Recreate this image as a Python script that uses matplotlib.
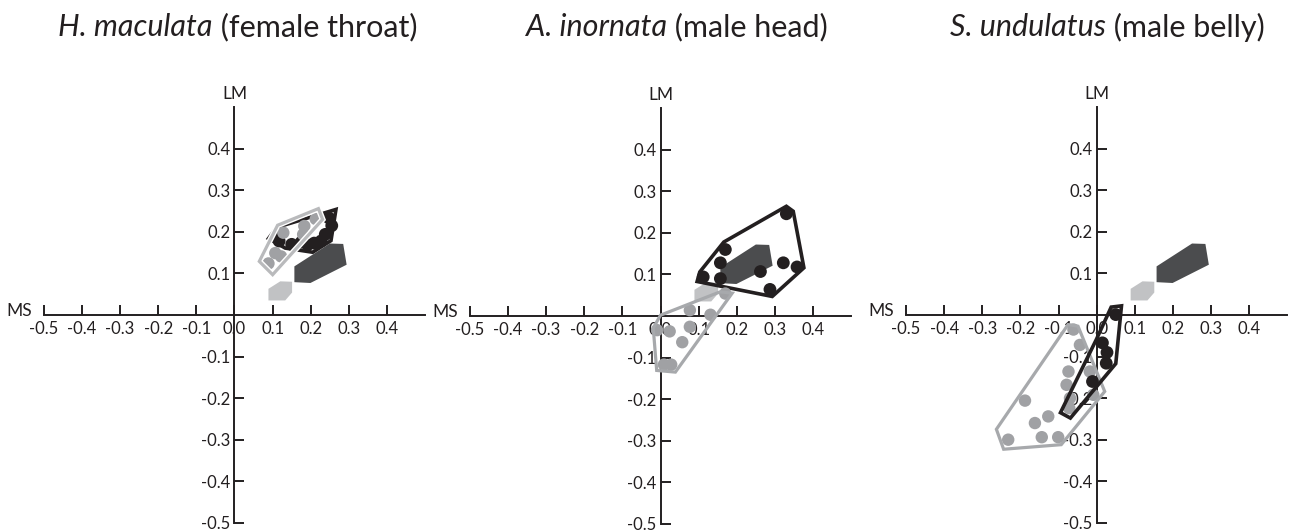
import matplotlib.pyplot as plt
import matplotlib.patheffects as pe
from matplotlib.patches import Polygon

plt.rcParams['font.family'] = ['Lato', 'DejaVu Sans']

BLACK = '#231f20'
DARK = '#4b4c4e'
LIGHT = '#c1c2c4'
GREY_DOT = '#a0a1a4'
GREY_LINE = '#a7a9ac'

# shared filled shapes (same in every panel)
dark_hex_x = [0.157, 0.157, 0.199, 0.294, 0.285, 0.250]
dark_hex_y = [0.117, 0.079, 0.077, 0.121, 0.171, 0.172]
light_hex_x = [0.089, 0.089, 0.133, 0.151, 0.151, 0.120]
light_hex_y = [0.063, 0.035, 0.035, 0.054, 0.080, 0.081]

# H. maculata
hm_black_x = [0.117, 0.209, 0.227, 0.238, 0.247, 0.192, 0.117, 0.150, 0.255, 0.175]
hm_black_y = [0.178, 0.173, 0.178, 0.194, 0.234, 0.169, 0.194, 0.170, 0.215, 0.175]
hm_black_hull_x = [0.089, 0.111, 0.266, 0.253, 0.205, 0.133]
hm_black_hull_y = [0.184, 0.211, 0.254, 0.179, 0.151, 0.161]
hm_grey_x = [0.128, 0.107, 0.122, 0.089, 0.183, 0.180, 0.213]
hm_grey_y = [0.198, 0.149, 0.141, 0.124, 0.214, 0.194, 0.231]
hm_grey_hull_x = [0.065, 0.100, 0.231, 0.220, 0.113]
hm_grey_hull_y = [0.129, 0.097, 0.230, 0.256, 0.216]

# A. inornata
ai_black_x = [0.112, 0.170, 0.157, 0.157, 0.262, 0.322, 0.358, 0.287, 0.330]
ai_black_y = [0.094, 0.160, 0.128, 0.090, 0.107, 0.128, 0.118, 0.064, 0.246]
ai_black_hull_x = [0.096, 0.103, 0.166, 0.330, 0.348, 0.376, 0.293]
ai_black_hull_y = [0.083, 0.106, 0.178, 0.264, 0.252, 0.116, 0.047]
ai_grey_x = [-0.009, 0.024, 0.077, 0.077, 0.057, 0.131, 0.170, 0.009, 0.028]
ai_grey_y = [-0.034, -0.037, 0.014, -0.026, -0.063, 0.003, 0.054, -0.117, -0.117]
ai_grey_hull_x = [-0.019, 0.000, 0.156, 0.188, 0.039, -0.010]
ai_grey_hull_y = [-0.029, 0.002, 0.058, 0.055, -0.135, -0.131]

# S. undulatus
su_black_x = [0.050, 0.015, 0.027, 0.025, -0.011]
su_black_y = [0.001, -0.067, -0.090, -0.116, -0.160]
su_black_hull_x = [-0.095, -0.069, 0.050, 0.065, 0.038, -0.001]
su_black_hull_y = [-0.235, -0.248, -0.117, 0.022, 0.019, -0.059]
su_grey_x = [-0.061, -0.044, -0.074, -0.018, -0.079, -0.009, -0.070,
             -0.188, -0.127, -0.162, -0.232, -0.144, -0.101, -0.072]
su_grey_y = [-0.035, -0.072, -0.136, -0.136, -0.168, -0.192, -0.200,
             -0.206, -0.244, -0.260, -0.300, -0.294, -0.294, -0.224]
su_grey_hull_x = [-0.263, -0.244, -0.093, 0.021, -0.049, -0.075]
su_grey_hull_y = [-0.275, -0.323, -0.312, -0.184, -0.027, -0.023]

ticks = [-0.5, -0.4, -0.3, -0.2, -0.1, 0.0, 0.1, 0.2, 0.3, 0.4]

W, H = 1289, 531
fig = plt.figure(figsize=(W / 100, H / 100), dpi=100)

panels = [
    dict(cx=234.5, cy=315.0, title_it='H. maculata', title_rm=' (female throat)', tx=238,
         black=(hm_black_x, hm_black_y, hm_black_hull_x, hm_black_hull_y),
         grey=(hm_grey_x, hm_grey_y, hm_grey_hull_x, hm_grey_hull_y),
         grey_top=True, grey_line='#b9babc'),
    dict(cx=660.5, cy=316.0, title_it='A. inornata', title_rm=' (male head)', tx=677,
         black=(ai_black_x, ai_black_y, ai_black_hull_x, ai_black_hull_y),
         grey=(ai_grey_x, ai_grey_y, ai_grey_hull_x, ai_grey_hull_y),
         grey_top=True, grey_line=GREY_LINE),
    dict(cx=1096.7, cy=315.0, title_it='S. undulatus', title_rm=' (male belly)', tx=1107,
         black=(su_black_x, su_black_y, su_black_hull_x, su_black_hull_y),
         grey=(su_grey_x, su_grey_y, su_grey_hull_x, su_grey_hull_y),
         grey_top=False, grey_line=GREY_LINE),
]

aw, ah = 381.4, 415.6
renderer = fig.canvas.get_renderer()

for i, p in enumerate(panels):
    left = (p['cx'] - aw / 2) / W
    bottom = (H - (p['cy'] + ah / 2)) / H
    ax = fig.add_axes([left, bottom, aw / W, ah / H])
    ax.set_xlim(-0.5, 0.5)
    ax.set_ylim(-0.5, 0.5)
    ax.patch.set_visible(False)
    for s in ['top', 'right']:
        ax.spines[s].set_visible(False)
    for s in ['left', 'bottom']:
        ax.spines[s].set_position('zero')
        ax.spines[s].set_linewidth(1.4)
        ax.spines[s].set_color(BLACK)
    ax.set_xticks(ticks)
    ax.set_xticklabels(['%.1f' % t for t in ticks])
    yt = [t for t in ticks if t != 0]
    ax.set_yticks(yt)
    ax.set_yticklabels(['%.1f' % t for t in yt])
    ax.tick_params(direction='in', length=7, width=1.4, color=BLACK,
                   labelsize=12, labelcolor=BLACK)
    ax.tick_params(axis='x', pad=4)
    ax.tick_params(axis='y', pad=3)
    ax.text(-0.532, 0.01, 'MS', ha='right', va='center', fontsize=12.5,
            color=BLACK, clip_on=False)
    ax.text(0, 0.532, 'LM', ha='center', va='center', fontsize=12.5,
            color=BLACK, clip_on=False)

    ax.add_patch(Polygon(list(zip(dark_hex_x, dark_hex_y)), closed=True,
                         fc=DARK, ec='none', zorder=2))
    ax.add_patch(Polygon(list(zip(light_hex_x, light_hex_y)), closed=True,
                         fc=LIGHT, ec='none', zorder=2))

    zb, zg = (3, 5) if p['grey_top'] else (5, 3)
    bx, by, bhx, bhy = p['black']
    gx, gy, ghx, ghy = p['grey']
    ax.scatter(bx, by, s=85, c=BLACK, edgecolors='none', zorder=zb)
    ax.add_patch(Polygon(list(zip(bhx, bhy)), closed=True, fill=False,
                         ec=BLACK, lw=2.6, joinstyle='miter', zorder=zb + 0.5))
    ax.scatter(gx, gy, s=80, c=GREY_DOT, edgecolors='none', zorder=zg)
    gh = Polygon(list(zip(ghx, ghy)), closed=True, fill=False,
                 ec=p['grey_line'], lw=2.3, joinstyle='miter', zorder=zg + 0.5)
    if i == 0:
        gh.set_path_effects([pe.Stroke(linewidth=4.3, foreground='white'), pe.Normal()])
    ax.add_patch(gh)

    # title: italic species name followed by upright description
    ty = (H - 27) / H
    t1 = fig.text(0, ty, p['title_it'], fontsize=22, style='italic',
                  color=BLACK, va='center', ha='left')
    t2 = fig.text(0, ty, p['title_rm'], fontsize=22, color=BLACK,
                  va='center', ha='left')
    w1 = t1.get_window_extent(renderer).width
    w2 = t2.get_window_extent(renderer).width
    x0 = p['tx'] - (w1 + w2) / 2
    t1.set_x(x0 / W)
    t2.set_x((x0 + w1) / W)

fig.savefig('out.png', dpi=100)
